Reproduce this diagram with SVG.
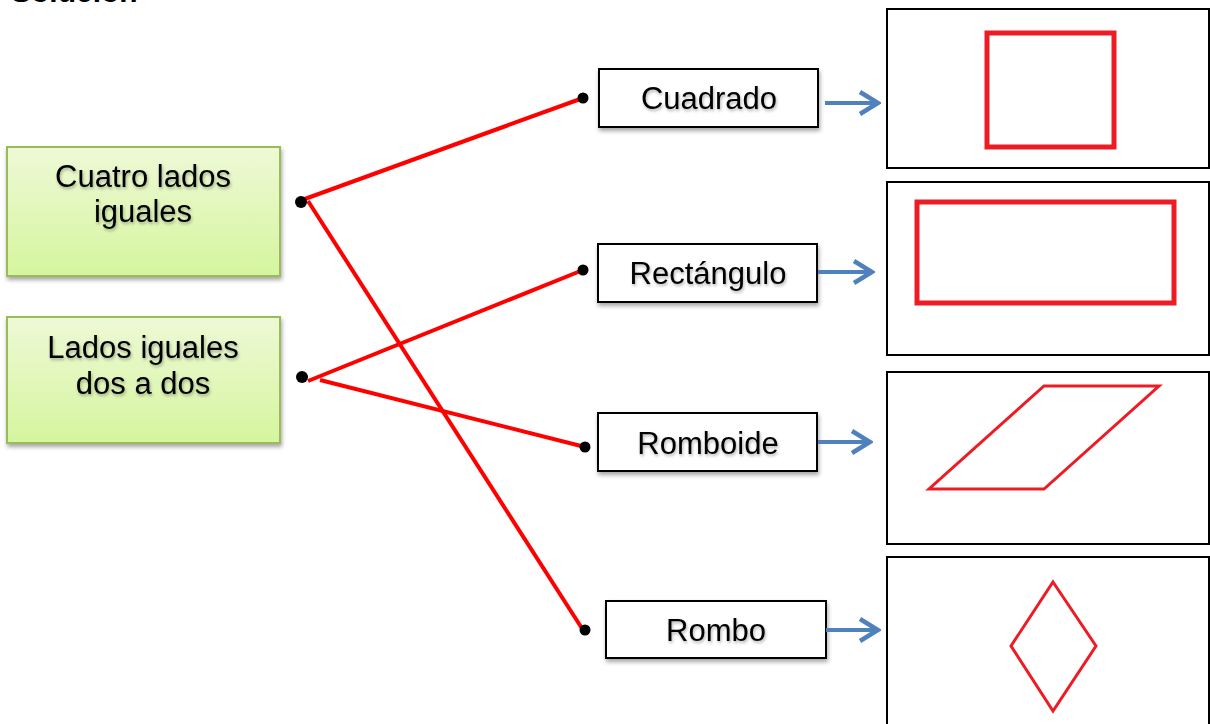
<svg xmlns="http://www.w3.org/2000/svg" width="1210" height="724" viewBox="0 0 1210 724">
<defs>
<linearGradient id="g" x1="0" y1="0" x2="0" y2="1">
<stop offset="0" stop-color="#eef9d6"/>
<stop offset="1" stop-color="#d5f59e"/>
</linearGradient>
<filter id="sh" x="-10%" y="-10%" width="130%" height="140%">
<feDropShadow dx="1" dy="3" stdDeviation="2" flood-color="#000" flood-opacity="0.35"/>
</filter>
<filter id="tsh" x="-10%" y="-20%" width="130%" height="150%">
<feDropShadow dx="1" dy="2" stdDeviation="1.5" flood-color="#000" flood-opacity="0.3"/>
</filter>
<marker id="ah" viewBox="0 0 24 26" refX="21" refY="13" markerWidth="24" markerHeight="26" markerUnits="userSpaceOnUse" orient="auto">
<path d="M3,2 L21,13 L3,24" fill="none" stroke="#4f81bd" stroke-width="4.5"/>
</marker>
</defs>
<style>
.t{font-family:"Liberation Sans",Arial,sans-serif;fill:#000;text-anchor:middle}
.gb{fill:url(#g);stroke:#9bbb59;stroke-width:2}
.wb{fill:#fff;stroke:#000;stroke-width:2}
.ib{fill:#fff;stroke:#000;stroke-width:2}
.red{fill:none;stroke:#ed1c24}
.conn{stroke:#ff0000;stroke-width:4;fill:none}
.arr{stroke:#4f81bd;stroke-width:4;fill:none}
</style>
<rect width="1210" height="724" fill="#fff"/>
<text x="11" y="2" font-family="Liberation Sans, Arial, sans-serif" font-weight="bold" font-size="30">Solución</text>

<g id="cuatro-lados">
<rect class="gb" x="7" y="147" width="273" height="129" filter="url(#sh)"/>
<text class="t" font-size="31" x="143" y="187" filter="url(#tsh)">Cuatro lados</text>
<text class="t" font-size="31" x="143" y="222" filter="url(#tsh)">iguales</text>
</g>
<g id="lados-dos-a-dos">
<rect class="gb" x="7" y="317" width="273" height="126" filter="url(#sh)"/>
<text class="t" font-size="31" x="143" y="358" filter="url(#tsh)">Lados iguales</text>
<text class="t" font-size="31" x="143" y="394" filter="url(#tsh)">dos a dos</text>
</g>

<g id="cuadrado">
<rect class="wb" x="599" y="69" width="219" height="58" filter="url(#sh)"/>
<text class="t" font-size="31" x="709" y="109" filter="url(#tsh)">Cuadrado</text>
</g>
<g id="rectangulo">
<rect class="wb" x="598" y="244" width="219" height="58" filter="url(#sh)"/>
<text class="t" font-size="31" x="708" y="284" filter="url(#tsh)">Rectángulo</text>
</g>
<g id="romboide">
<rect class="wb" x="598" y="413" width="219" height="58" filter="url(#sh)"/>
<text class="t" font-size="31" x="708" y="454" filter="url(#tsh)">Romboide</text>
</g>
<g id="rombo">
<rect class="wb" x="606" y="601" width="220" height="57" filter="url(#sh)"/>
<text class="t" font-size="31" x="716" y="641" filter="url(#tsh)">Rombo</text>
</g>

<g id="img-cuadrado">
<rect class="ib" x="887" y="9" width="322" height="159"/>
<rect class="red" stroke-width="5" x="987" y="33" width="127" height="114"/>
</g>
<g id="img-rectangulo">
<rect class="ib" x="887" y="182" width="322" height="173"/>
<rect class="red" stroke-width="5" x="917" y="202" width="257" height="101"/>
</g>
<g id="img-romboide">
<rect class="ib" x="887" y="372" width="322" height="172"/>
<polygon class="red" stroke-width="3" points="929,489 1044,489 1159,386 1044,386"/>
</g>
<g id="img-rombo">
<rect class="ib" x="887" y="557" width="322" height="180"/>
<polygon class="red" stroke-width="3" points="1053,582 1096,646 1053,711 1011,646"/>
</g>

<g id="connectors">
<line class="conn" x1="302" y1="200" x2="583" y2="98"/>
<line class="conn" x1="308" y1="201" x2="583" y2="630"/>
<line class="conn" x1="308" y1="381" x2="583" y2="270"/>
<line class="conn" x1="320" y1="380" x2="585" y2="447"/>
<circle cx="301" cy="202" r="6"/>
<circle cx="302" cy="377" r="6"/>
<circle cx="583" cy="98" r="5.5"/>
<circle cx="583" cy="270" r="5.5"/>
<circle cx="585" cy="447" r="5.5"/>
<circle cx="585" cy="630" r="5.5"/>
<line class="arr" x1="825" y1="103" x2="878" y2="103" marker-end="url(#ah)"/>
<line class="arr" x1="818" y1="272" x2="872" y2="272" marker-end="url(#ah)"/>
<line class="arr" x1="818" y1="442" x2="870" y2="442" marker-end="url(#ah)"/>
<line class="arr" x1="826" y1="630" x2="878" y2="630" marker-end="url(#ah)"/>
</g>
</svg>
